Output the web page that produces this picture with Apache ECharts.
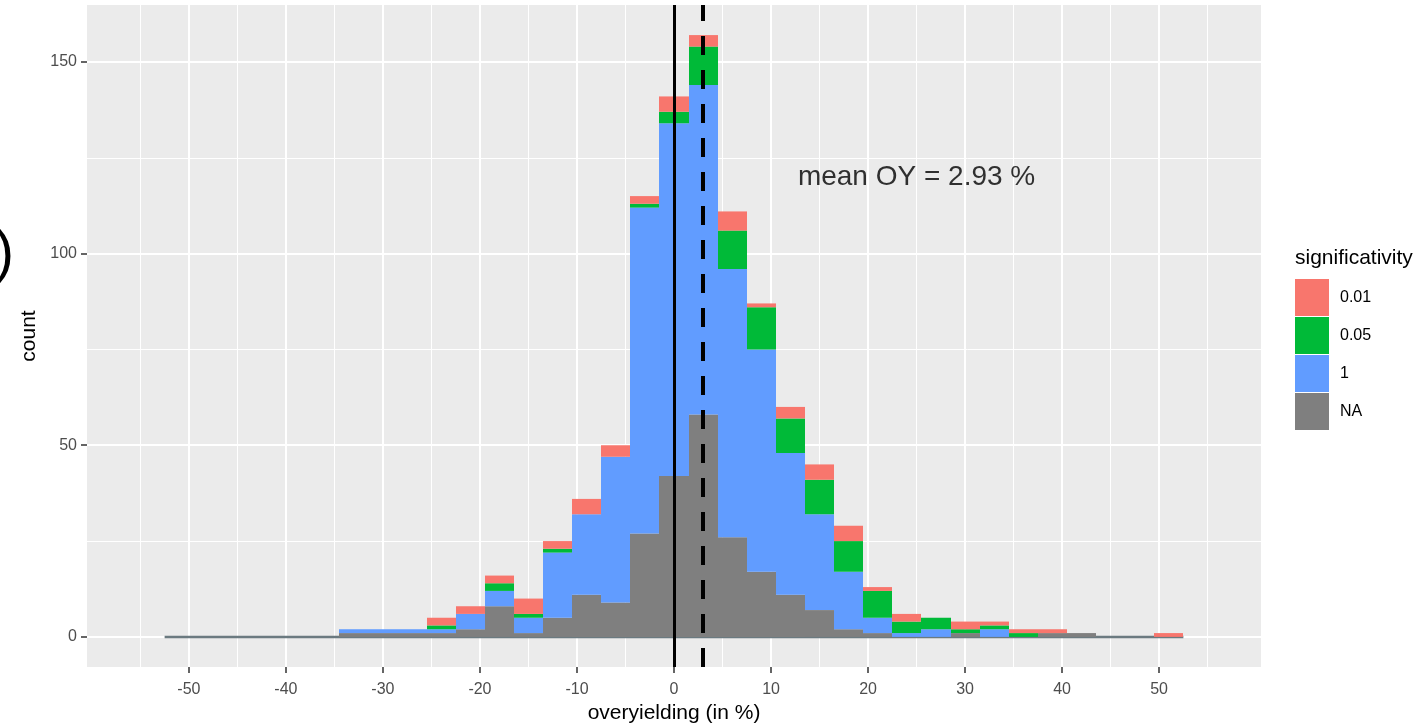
<!DOCTYPE html>
<html>
<head>
<meta charset="utf-8">
<script src="https://cdn.jsdelivr.net/npm/echarts@6.0.0/dist/echarts.min.js"></script>
<style>
  html, body { margin: 0; padding: 0; background: #ffffff; }
  #chart { width: 1419px; height: 726px; }
</style>
</head>
<body>
<div id="chart"></div>
<script>
// ---- data ----
const binCenters = [-51,-48,-45,-42,-39,-36,-33,-30,-27,-24,-21,-18,-15,-12,-9,-6,-3,0,3,6,9,12,15,18,21,24,27,30,33,36,39,42,45,48,51];
const binWidth = 3;
const countNA   = [0,0,0,0,0,0,1,1,1,1,2,8,1,5,11,9,27,42,58,26,17,11,7,2,1,0,0,1,0,0,1,1,0,0,0];
const count1    = [0,0,0,0,0,0,1,1,1,1,4,4,4,17,21,38,85,92,86,70,58,37,25,15,4,1,2,0,2,0,0,0,0,0,0];
const count005  = [0,0,0,0,0,0,0,0,0,1,0,2,1,1,0,0,1,3,10,10,11,9,9,8,7,3,3,1,1,1,0,0,0,0,0];
const count001  = [0,0,0,0,0,0,0,0,0,2,2,2,4,2,4,3,2,4,3,5,1,3,4,4,1,2,0,2,1,1,1,0,0,0,1];
const groupNames = ['NA', '1', '0.05', '0.01'];       // stacking order, bottom to top
const legendOrder = ['0.01', '0.05', '1', 'NA'];
const xLimits = [-55, 55];
const xMajorTicks = [-50,-40,-30,-20,-10,0,10,20,30,40,50];
const xMinorTicks = [-55,-45,-35,-25,-15,-5,5,15,25,35,45,55];
const yMajorTicks = [0,50,100,150];
const yMinorTicks = [25,75,125];
const zeroLine = 0;
const meanOY = 2.93;
const annotText = 'mean OY = 2.93 %';
const annotPos = [25, 120];

// ---- styles ----
const colors = { 'NA': '#7F7F7F', '1': '#619CFF', '0.05': '#00BA38', '0.01': '#F8766D' };
const FONT = "'Liberation Sans', Arial, Helvetica, sans-serif";

const groups = [countNA, count1, count005, count001];
const totals = binCenters.map((_, i) => groups.reduce((s, g) => s + g[i], 0));
const yMaxData = Math.max(...totals);
const yPad = 0.05 * (yMaxData - 0);
const xPad = 0.05 * (xLimits[1] - xLimits[0]);

function stackedData(k) {
  return binCenters.map((c, i) => {
    let base = 0;
    for (let j = 0; j < k; j++) base += groups[j][i];
    return [c, base, groups[k][i]];
  });
}

function makeRender(color) {
  return function (params, api) {
    const c = api.value(0), b = api.value(1), v = api.value(2);
    if (!(v > 0)) return null;
    const p0 = api.coord([c - binWidth / 2, b + v]);
    const p1 = api.coord([c + binWidth / 2, b]);
    return {
      type: 'rect',
      shape: { x: Math.round(p0[0]), y: p0[1], width: Math.round(p1[0]) - Math.round(p0[0]), height: p1[1] - p0[1] },
      style: { fill: color }
    };
  };
}

const gridLineData = []
  .concat(xMinorTicks.map(v => ({ xAxis: v, lineStyle: { width: 1, color: '#ffffff', type: 'solid' } })))
  .concat(yMinorTicks.map(v => ({ yAxis: v, lineStyle: { width: 1, color: '#ffffff', type: 'solid' } })))
  .concat(xMajorTicks.map(v => ({ xAxis: v, lineStyle: { width: 2, color: '#ffffff', type: 'solid' } })))
  .concat(yMajorTicks.map(v => ({ yAxis: v, lineStyle: { width: 2, color: '#ffffff', type: 'solid' } })));

const series = [
  {
    name: '__grid', type: 'line', data: [[0, 0]], symbol: 'none', lineStyle: { opacity: 0 },
    z: 1, silent: true,
    markLine: { z: 1, silent: true, symbol: ['none', 'none'], label: { show: false }, animation: false, data: gridLineData }
  },
  {
    name: '__base', type: 'line', symbol: 'none', z: 2, silent: true,
    data: [[binCenters[0] - binWidth / 2, 0], [binCenters[binCenters.length - 1] + binWidth / 2, 0]],
    lineStyle: { color: '#6B7A80', width: 2.5 }
  }
];
groupNames.forEach((name, k) => {
  series.push({
    name: name, type: 'custom', z: 3,
    itemStyle: { color: colors[name] },
    renderItem: makeRender(colors[name]),
    encode: { x: 0, y: [1, 2] },
    data: stackedData(k)
  });
});
series.push({
  name: '__ref', type: 'line', data: [[0, 0]], symbol: 'none', lineStyle: { opacity: 0 }, z: 10, silent: true,
  markLine: {
    z: 10, silent: true, symbol: ['none', 'none'], label: { show: false }, animation: false,
    data: [
      { xAxis: zeroLine, lineStyle: { color: '#000000', width: 3, type: 'solid' } },
      { xAxis: meanOY, lineStyle: { color: '#000000', width: 4, type: [19, 15] } }
    ]
  }
});
series.push({
  name: '__annot', type: 'scatter', z: 11, silent: true, symbolSize: 0,
  data: [annotPos],
  label: { show: true, position: 'inside', formatter: annotText, color: '#000000', textBorderWidth: 0, fontSize: 28, fontFamily: FONT }
});

const chart = echarts.init(document.getElementById('chart'), null, { renderer: 'canvas' });
chart.setOption({
  animation: false,
  backgroundColor: '#ffffff',
  grid: { left: 87, right: 158, top: 5, bottom: 59, show: true, backgroundColor: '#EBEBEB', borderWidth: 0, containLabel: false, outerBoundsMode: 'none' },
  title: { text: 'significativity', left: 1295, top: 248, padding: 0, textStyle: { fontSize: 21, fontWeight: 'normal', color: '#000000', fontFamily: FONT } },
  legend: {
    data: legendOrder, orient: 'vertical', left: 1295, top: 279, icon: 'rect', padding: 0,
    itemWidth: 34, itemHeight: 37, itemGap: 1, selectedMode: false,
    textStyle: { fontSize: 16, color: '#000000', fontFamily: FONT, padding: [0, 0, 0, 6] }
  },
  xAxis: {
    type: 'value', min: xLimits[0] - xPad, max: xLimits[1] + xPad,
    axisLine: { show: true, onZero: false, lineStyle: { color: 'rgba(0,0,0,0)' } },
    axisTick: { show: true, inside: false, customValues: xMajorTicks, length: 6, lineStyle: { color: '#333333', width: 1.5 } },
    axisLabel: { customValues: xMajorTicks, color: '#4D4D4D', fontSize: 16, margin: 15, fontFamily: FONT },
    splitLine: { show: false },
    name: 'overyielding (in %)', nameLocation: 'middle', nameGap: 36,
    nameTextStyle: { fontSize: 21, color: '#000000', fontFamily: FONT }
  },
  yAxis: {
    type: 'value', min: -yPad, max: yMaxData + yPad,
    axisLine: { show: true, onZero: false, lineStyle: { color: 'rgba(0,0,0,0)' } },
    axisTick: { show: true, inside: false, customValues: yMajorTicks, length: 6, lineStyle: { color: '#333333', width: 1.5 } },
    axisLabel: { customValues: yMajorTicks, color: '#4D4D4D', fontSize: 16, margin: 10, fontFamily: FONT },
    splitLine: { show: false },
    name: 'count', nameLocation: 'middle', nameGap: 43, nameRotate: 90,
    nameTextStyle: { fontSize: 21, color: '#000000', fontFamily: FONT }
  },
  graphic: [
    { type: 'text', x: -5, y: 255, silent: true,
      style: { text: ')', fontSize: 57, fontFamily: FONT, fill: '#000000', textAlign: 'left', textVerticalAlign: 'middle' } }
  ],
  series: series
});
</script>
</body>
</html>
